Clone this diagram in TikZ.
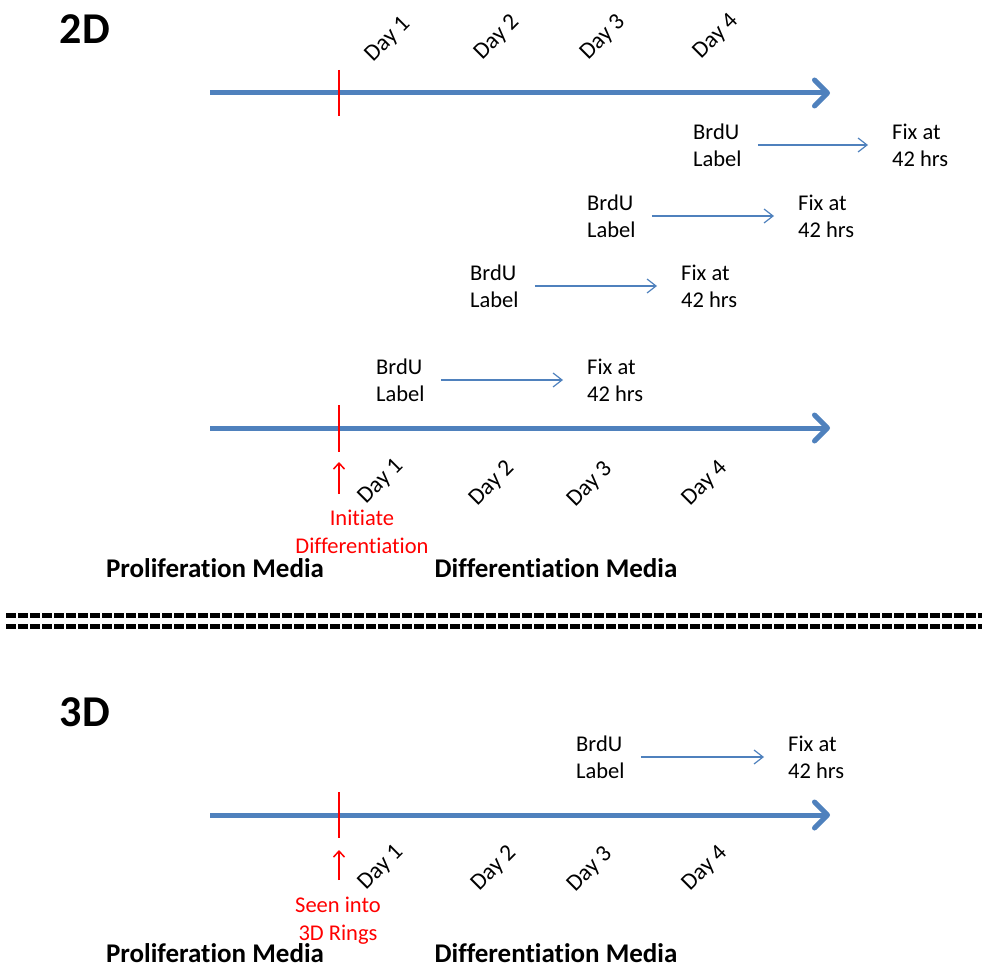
\documentclass[tikz,border=0pt]{standalone}
\usepackage{fontspec}
\setmainfont{Carlito}[Ligatures=NoCommon]
\usetikzlibrary{arrows.meta}

\definecolor{tlblue}{RGB}{79,129,189}

\begin{document}
\begin{tikzpicture}[x=1pt, y=-1pt,
    timeline/.style={draw=tlblue, line width=5pt,
        -{Straight Barb[length=13pt, width=26pt, line cap=round, line join=round]}},
    tick/.style={draw=red, line width=2.5pt},
    uparrow/.style={draw=red, line width=1.5pt, -{Straight Barb[length=6pt, width=11pt]}},
    steparrow/.style={draw=tlblue, line width=1.2pt, -{Straight Barb[length=9pt, width=14pt]},
        shorten <=16pt, shorten >=24pt},
    title/.style={font=\fontsize{44}{50}\selectfont\bfseries},
    media/.style={font=\fontsize{27}{32}\selectfont\bfseries, inner sep=0pt},
    day/.style={font=\fontsize{23.5}{28}\selectfont, rotate=45},
    note/.style={font=\fontsize{22.5}{27}\selectfont, align=left, anchor=west, inner sep=0pt},
    redtext/.style={font=\fontsize{22.5}{28}\selectfont, text=red, align=center},
    sep/.style={draw=black, line width=5pt, dash pattern=on 9.5pt off 2.5pt}
  ]
  \useasboundingbox (0,0) rectangle (982,968);

  % ---------------- 2D ----------------
  \node[title] (t2d) at (85,29) {2D};

  % Upper timeline
  \coordinate (ua) at (210,93);
  \coordinate (ub) at (830,93);
  \draw[timeline] (ua) -- (ub);
  \coordinate (uk1) at (339,70);
  \coordinate (uk2) at (339,116);
  \draw[tick] (uk1) -- (uk2);

  % Days above the upper timeline
  \node[day] (ud1) at (388,40) {Day 1};
  \node[day] (ud2) at (497,38) {Day 2};
  \node[day] (ud3) at (603,38) {Day 3};
  \node[day] (ud4) at (716,37) {Day 4};

  % BrdU label -> fix, one per day
  \node[note] (b4) at (693,145) {BrdU\\Label};
  \node[note] (f4) at (892,145) {Fix at\\42 hrs};
  \draw[steparrow] (b4.east) -- (f4.west);

  \node[note] (b3) at (587,216) {BrdU\\Label};
  \node[note] (f3) at (798,216) {Fix at\\42 hrs};
  \draw[steparrow] (b3.east) -- (f3.west);

  \node[note] (b2) at (470,286) {BrdU\\Label};
  \node[note] (f2) at (681,286) {Fix at\\42 hrs};
  \draw[steparrow] (b2.east) -- (f2.west);

  \node[note] (b1) at (376,380) {BrdU\\Label};
  \node[note] (f1) at (587,380) {Fix at\\42 hrs};
  \draw[steparrow] (b1.east) -- (f1.west);

  % Lower timeline
  \coordinate (la) at (210,428);
  \coordinate (lb) at (830,428);
  \draw[timeline] (la) -- (lb);
  \coordinate (lk1) at (339,405);
  \coordinate (lk2) at (339,452);
  \draw[tick] (lk1) -- (lk2);

  % Days below the lower timeline
  \node[day] (ld1) at (381,482) {Day 1};
  \node[day] (ld2) at (492,484) {Day 2};
  \node[day] (ld3) at (590,485) {Day 3};
  \node[day] (ld4) at (705,484) {Day 4};

  % Start of differentiation
  \coordinate (lu1) at (339,494);
  \coordinate (lu2) at (339,462);
  \draw[uparrow] (lu1) -- (lu2);
  \node[redtext] (init) at (362,532) {Initiate\\Differentiation};

  \node[media] (pm2d) at (215,568) {Proliferation Media};
  \node[media] (dm2d) at (556,568) {Differentiation Media};

  % Separator
  \coordinate (s1a) at (6,615);
  \coordinate (s1b) at (982,615);
  \coordinate (s2a) at (6,626);
  \coordinate (s2b) at (982,626);
  \draw[sep] (s1a) -- (s1b);
  \draw[sep] (s2a) -- (s2b);

  % ---------------- 3D ----------------
  \node[title] (t3d) at (85,712) {3D};

  \node[note] (b5) at (576,757) {BrdU\\Label};
  \node[note] (f5) at (788,757) {Fix at\\42 hrs};
  \draw[steparrow] (b5.east) -- (f5.west);

  \coordinate (ta) at (210,815);
  \coordinate (tb) at (830,815);
  \draw[timeline] (ta) -- (tb);
  \coordinate (tk1) at (339,792);
  \coordinate (tk2) at (339,838);
  \draw[tick] (tk1) -- (tk2);

  \node[day] (td1) at (381,868) {Day 1};
  \node[day] (td2) at (494,869) {Day 2};
  \node[day] (td3) at (590,870) {Day 3};
  \node[day] (td4) at (705,869) {Day 4};

  % Seeding
  \coordinate (tu1) at (339,880);
  \coordinate (tu2) at (339,850);
  \draw[uparrow] (tu1) -- (tu2);
  \node[redtext] (seed) at (338,921) {Seen into\\3D Rings};

  \node[media] (pm3d) at (215,953) {Proliferation Media};
  \node[media] (dm3d) at (556,953) {Differentiation Media};
\end{tikzpicture}
\end{document}
